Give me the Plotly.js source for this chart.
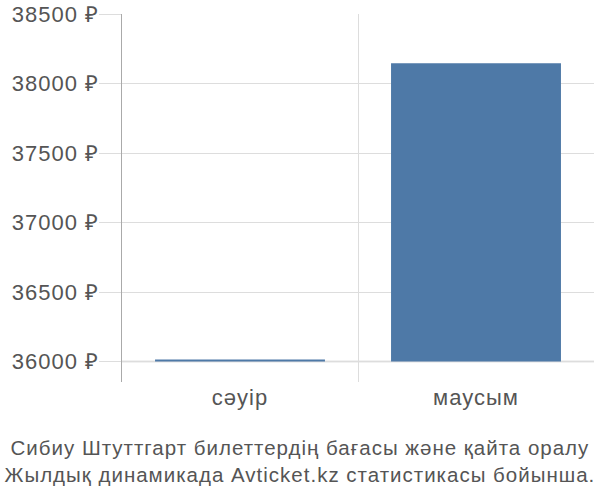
<!DOCTYPE html>
<html>
<head>
<meta charset="utf-8">
<script src="https://cdn.plot.ly/plotly-3.0.1.min.js"></script>
<style>
html,body{margin:0;padding:0;background:#fff}
#chart{width:600px;height:500px}
#chart text{letter-spacing:1px}
</style>
</head>
<body>
<div id="chart"></div>
<script>
const categories = ["сәуір", "маусым"];
const prices = [36015, 38145];
const baseValue = 36000;
const yTicks = [36000, 36500, 37000, 37500, 38000, 38500];
const titleLines = ["Сибиу Штуттгарт билеттердің бағасы және қайта оралу", "Жылдық динамикада Avticket.kz статистикасы бойынша."];

const trace = {
  type: "bar",
  x: categories,
  y: prices.map(v => v - baseValue),
  base: baseValue,
  width: 0.72,
  marker: {color: "#4e79a7"},
  hoverinfo: "none"
};

const layout = {
  width: 600, height: 500,
  margin: {l: 122, r: 6, t: 14, b: 118},
  paper_bgcolor: "#fff", plot_bgcolor: "#fff",
  font: {family: "Liberation Sans, Arial, sans-serif", color: "#555", size: 22},
  showlegend: false,
  xaxis: {
    type: "category",
    tickson: "boundaries",
    showgrid: true, gridcolor: "#ddd", gridwidth: 1,
    ticks: "", showline: false, zeroline: false,
    tickfont: {size: 22, color: "#555"},
    range: [-0.5, 1.5]
  },
  yaxis: {
    range: [35853, 38500],
    tickvals: yTicks,
    ticktext: yTicks.map(v => v + " ₽"),
    showgrid: true, gridcolor: "#ddd", gridwidth: 1,
    ticks: "outside", ticklen: 22, tickcolor: "#ddd", tickwidth: 1,
    ticklabelstandoff: -5,
    showline: true, linecolor: "#aaa", linewidth: 1.5,
    zeroline: false,
    tickfont: {size: 22, color: "#555"}
  },
  shapes: [{
    type: "line", xref: "paper", x0: 0, x1: 1, yref: "y", y0: baseValue, y1: baseValue,
    line: {color: "#c8c8c8", width: 1.5}, layer: "below"
  }],
  annotations: [{
    xref: "paper", yref: "paper", x: 0.377, y: -0.215, xanchor: "center", yanchor: "middle",
    showarrow: false, align: "center",
    text: titleLines.join("<br>"),
    font: {size: 20.5, color: "#555"}
  }]
};

Plotly.newPlot("chart", [trace], layout, {staticPlot: true, displayModeBar: false});
</script>
</body>
</html>
